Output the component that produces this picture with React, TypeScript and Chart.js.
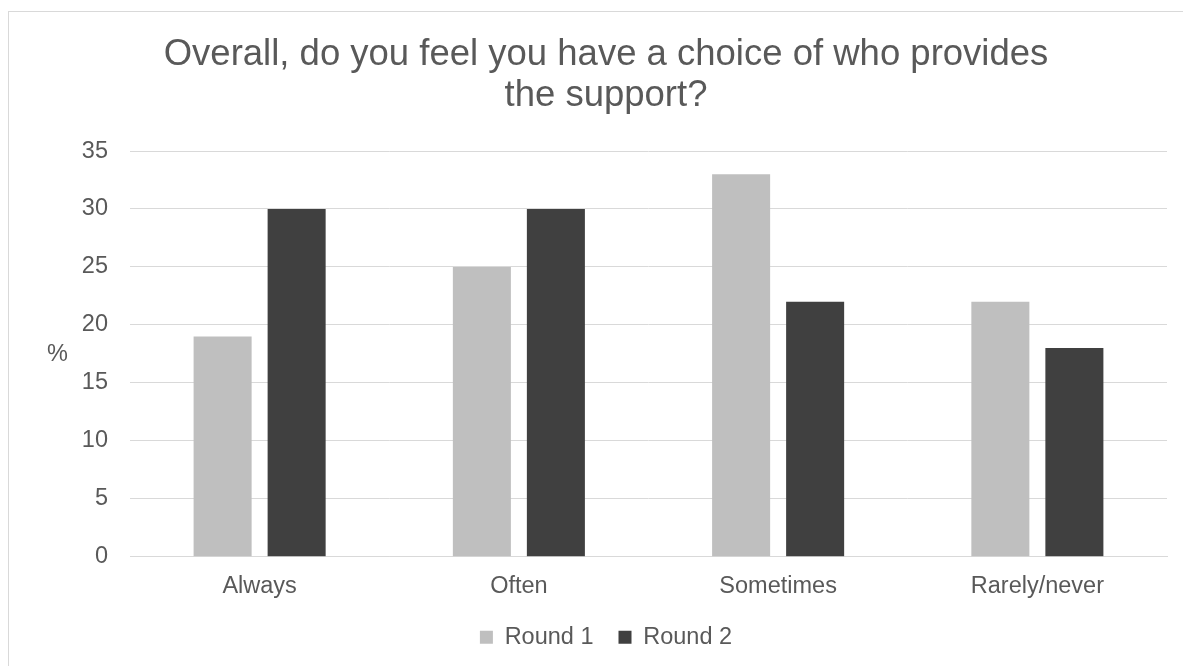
import React, { useEffect, useRef } from "react";
import { Chart, registerables } from "chart.js";

Chart.register(...registerables);

const categories = ["Always", "Often", "Sometimes", "Rarely/never"];
const round1 = [19, 25, 33, 22];
const round2 = [30, 30, 22, 18];
const seriesNames = ["Round 1", "Round 2"];
const titleLines = ["Overall, do you feel you have a choice of who provides", "the support?"];
const yAxisLabel = "%";

const TEXT = "#595959";
const GRID = "#d9d9d9";
const FONT = '"Liberation Sans", Arial, sans-serif';

const percentLabel = {
  id: "percentLabel",
  afterDraw(chart: any) {
    const { ctx, chartArea } = chart;
    ctx.save();
    ctx.fillStyle = TEXT;
    ctx.font = `23.5px ${FONT}`;
    ctx.textAlign = "center";
    ctx.textBaseline = "middle";
    ctx.fillText(yAxisLabel, 48.5, (chartArea.top + chartArea.bottom) / 2 + 1);
    ctx.restore();
  },
};

export default function App() {
  const ref = useRef<HTMLCanvasElement | null>(null);
  useEffect(() => {
    if (!ref.current) return;
    Chart.defaults.font.family = FONT;
    const chart = new Chart(ref.current, {
      type: "bar",
      data: {
        labels: categories,
        datasets: [
          { label: seriesNames[0], data: round1, backgroundColor: "#bfbfbf", borderWidth: 0 },
          { label: seriesNames[1], data: round2, backgroundColor: "#404040", borderWidth: 0 },
        ],
      },
      options: {
        responsive: false,
        animation: false,
        devicePixelRatio: 1,
        layout: { padding: { left: 36, right: 36, top: 0, bottom: 13 } },
        datasets: {
          bar: { categoryPercentage: 0.571, barPercentage: 0.784 },
        },
        scales: {
          x: {
            grid: { display: false, drawTicks: false },
            border: { display: true, color: GRID, width: 1 },
            ticks: { color: TEXT, font: { size: 23.5 }, padding: 16 },
            afterFit: (scale: any) => {
              scale.height = scale.height - 16.5;
            },
          },
          y: {
            min: 0,
            max: 35,
            grid: { color: GRID, lineWidth: 1, drawTicks: false },
            border: { display: false },
            ticks: { stepSize: 5, color: TEXT, font: { size: 23.5 }, padding: 22 },
            afterFit: (scale: any) => {
              scale.width = 85;
            },
          },
        },
        plugins: {
          title: {
            display: true,
            text: titleLines,
            color: TEXT,
            font: { size: 36.5, weight: "normal", lineHeight: 1.14 },
            padding: { top: 22, bottom: 33.8 },
          },
          legend: {
            position: "bottom",
            labels: {
              color: TEXT,
              font: { size: 23.5 },
              boxWidth: 13,
              boxHeight: 13,
              padding: 25,
            },
          },
          tooltip: { enabled: false },
        },
      },
      plugins: [percentLabel],
    });
    return () => chart.destroy();
  }, []);

  return (
    <div
      style={{
        position: "fixed",
        left: 8,
        top: 11,
        width: 1175,
        height: 655,
        overflow: "hidden",
        background: "#fff",
      }}
    >
      <div style={{ width: 1196, height: 662, border: `1px solid ${GRID}`, boxSizing: "border-box" }}>
        <canvas ref={ref} width={1194} height={660} style={{ display: "block", width: 1194, height: 660 }} />
      </div>
    </div>
  );
}
